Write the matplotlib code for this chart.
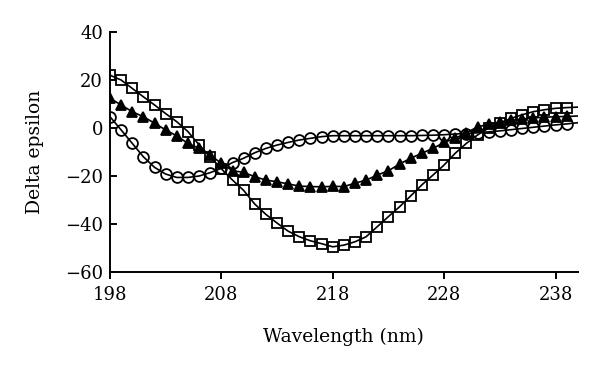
import matplotlib.pyplot as plt
import numpy as np

plt.rcParams["font.family"] = ["DejaVu Serif"]

wavelength = np.arange(198, 241)  # 198..240 nm

squares = [22, 20, 16.5, 13, 9.6, 6, 2.6, -1.5, -7, -12, -17, -21.7, -26, -31.7,
           -36, -39.6, -43, -45.3, -47, -48.2, -49.5, -48.8, -47.4, -45.3, -41.1,
           -36.9, -32.8, -28.3, -23.7, -19.6, -15.4, -10.5, -6.4, -2.9, 0, 2, 4,
           5.5, 6.8, 7.6, 8.2, 8.5, 8.7]
triangles = [12.4, 9.6, 6.8, 4.7, 2, -0.8, -3.3, -6.4, -8.5, -11.3, -14.7, -17.8,
             -18.5, -20.3, -21.7, -22.4, -23.3, -24.2, -24.4, -24.5, -24.3, -24.4,
             -23, -21.7, -19.6, -17.8, -15, -12.6, -10.5, -8.5, -6, -4.3, -2, 0.5,
             1.5, 2.5, 3.2, 3.8, 4.2, 4.5, 4.7, 4.8, 5]
circles = [4.7, -0.8, -6.4, -12, -16.4, -19.2, -20.6, -20.6, -20, -18.6, -16.8,
           -14.4, -12.6, -10.3, -8.5, -7.1, -6, -5, -4.3, -3.6, -3.2, -3.2, -3.2,
           -3.2, -3.2, -3.2, -3.2, -3.2, -3.1, -3, -2.8, -2.5, -2.3, -2, -1.6,
           -1.2, -0.7, -0.2, 0.3, 0.8, 1.3, 1.7, 2.2]

x_ticks = [198, 208, 218, 228, 238]
y_ticks = [-60, -40, -20, 0, 20, 40]

fig = plt.figure(figsize=(6, 3.77), dpi=100)
ax = fig.add_axes([0.1833, 0.2785, 0.7797, 0.6366])

marks = slice(0, len(wavelength) - 1)  # last point carries no marker
style = dict(color="black", linewidth=1.2, markeredgewidth=1.3, markevery=marks)
ax.plot(wavelength, squares, marker="s", markersize=7.8, markerfacecolor="none", **style)
ax.plot(wavelength, triangles, marker="^", markersize=7.6, markerfacecolor="black", **style)
ax.plot(wavelength, circles, marker="o", markersize=7.8, markerfacecolor="none", **style)

ax.set_xlim(198, 240)
ax.set_ylim(-60, 40)
ax.set_xticks(x_ticks)
ax.set_yticks(y_ticks)
ax.spines[["top", "right"]].set_visible(False)
for side in ("left", "bottom"):
    ax.spines[side].set_linewidth(1.4)
ax.tick_params(axis="x", direction="out", length=5, width=1.4, labelsize=13, pad=5)
ax.tick_params(axis="y", direction="in", length=5, width=1.4, labelsize=13, pad=5)

ax.set_xlabel("Wavelength (nm)", fontsize=13.5, labelpad=17)
ax.set_ylabel("Delta epsilon", fontsize=13.5, labelpad=15)

fig.savefig("out.png", dpi=100)
